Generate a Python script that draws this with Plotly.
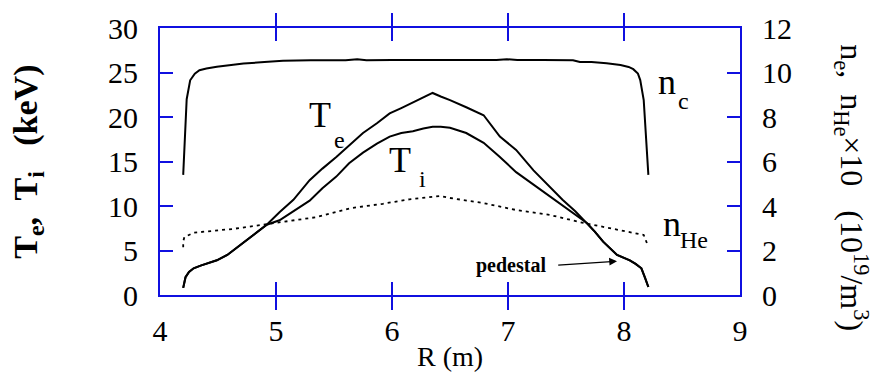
import plotly.graph_objects as go

# Major radius grid for each profile (m)
R_ne = [4.20, 4.22, 4.23, 4.26, 4.30, 4.34, 4.40, 4.49, 4.60, 4.72, 4.90, 5.06, 5.30,
        5.60, 5.70, 5.78, 6.00, 6.50, 6.90, 6.99, 7.08, 7.30, 7.56, 7.62, 7.72, 7.85,
        7.97, 8.04, 8.08, 8.12, 8.14, 8.17, 8.19, 8.21]
n_e = [5.4, 7.6, 8.8, 9.65, 9.95, 10.1, 10.18, 10.26, 10.33, 10.4, 10.47, 10.53, 10.55,
       10.55, 10.6, 10.55, 10.56, 10.56, 10.56, 10.6, 10.56, 10.56, 10.55, 10.47, 10.47, 10.42,
       10.34, 10.25, 10.15, 9.95, 9.66, 8.76, 7.2, 5.4]

R_T = [4.20, 4.22, 4.25, 4.29, 4.35, 4.42, 4.49, 4.58, 4.66, 4.78, 4.92, 5.03, 5.15,
       5.29, 5.40, 5.52, 5.63, 5.75, 5.87, 5.98, 6.08, 6.18, 6.27, 6.35, 6.42, 6.50,
       6.64, 6.79, 6.93, 7.07, 7.22, 7.35, 7.47, 7.58, 7.68, 7.75, 7.82, 7.94, 8.05,
       8.10, 8.15, 8.18, 8.21]
T_e = [0.8, 2.0, 2.6, 3.0, 3.3, 3.6, 3.9, 4.5, 5.3, 6.4, 7.9, 9.3, 10.7,
       12.9, 14.2, 15.5, 16.8, 18.2, 19.3, 20.4, 21.0, 21.6, 22.2, 22.7, 22.3, 21.9,
       21.1, 20.2, 17.8, 16.3, 14.0, 12.3, 10.7, 9.4, 8.1, 7.1, 6.0, 4.5, 3.9,
       3.5, 3.0, 2.0, 0.9]
T_i = [0.8, 2.0, 2.6, 3.0, 3.3, 3.6, 3.9, 4.5, 5.3, 6.4, 7.9, 8.4, 9.4,
       10.6, 12.0, 13.3, 14.8, 16.0, 17.0, 17.8, 18.2, 18.4, 18.7, 18.9, 18.9, 18.8,
       18.2, 17.1, 15.5, 13.8, 12.4, 11.2, 10.1, 9.1, 8.1, 7.1, 6.0, 4.5, 3.9,
       3.5, 3.0, 2.0, 0.9]

R_he = [4.20, 4.20, 4.21, 4.29, 4.63, 5.00, 5.35, 5.64, 5.92, 6.15, 6.41, 6.50, 6.79,
        7.07, 7.36, 7.65, 7.94, 8.17, 8.20]
n_He = [2.15, 2.4, 2.6, 2.8, 2.97, 3.24, 3.5, 3.9, 4.1, 4.3, 4.45, 4.36, 4.13,
        3.82, 3.6, 3.24, 2.92, 2.7, 2.3]

x_ticks = [4, 5, 6, 7, 8, 9]
y_ticks = [0, 5, 10, 15, 20, 25, 30]
y2_ticks = [0, 2, 4, 6, 8, 10, 12]

FRAME = "#1010e0"
SERIF = "Liberation Serif"

fig = go.Figure()
fig.add_trace(go.Scatter(x=R_ne, y=n_e, yaxis="y2", mode="lines",
                         line=dict(color="black", width=2)))
fig.add_trace(go.Scatter(x=R_T, y=T_e, mode="lines",
                         line=dict(color="black", width=2)))
fig.add_trace(go.Scatter(x=R_T, y=T_i, mode="lines",
                         line=dict(color="black", width=2)))
fig.add_trace(go.Scatter(x=R_he, y=n_He, yaxis="y2", mode="lines",
                         line=dict(color="black", width=1.8, dash="3px,4px")))

axis_common = dict(showgrid=False, zeroline=False, showline=True, linecolor=FRAME,
                   linewidth=2, ticks="inside", ticklen=13, tickwidth=2,
                   tickcolor=FRAME, tickfont=dict(family=SERIF, size=30, color="black"))

fig.update_layout(
    width=873, height=378,
    margin=dict(l=160, r=133, t=28, b=83),
    paper_bgcolor="white", plot_bgcolor="white",
    showlegend=False,
    xaxis=dict(range=[4, 9], tickvals=x_ticks, mirror="allticks",
               ticklabelstandoff=8, **axis_common),
    yaxis=dict(range=[0, 30], tickvals=y_ticks, ticklabelstandoff=14, **axis_common),
    yaxis2=dict(range=[0, 12], tickvals=y2_ticks, overlaying="y", side="right",
                ticklabelstandoff=14, **axis_common),
)

def label(text, x, y, size, ref="y", **kw):
    fig.add_annotation(text=text, x=x, y=y, xref="x", yref=ref, showarrow=False,
                       font=dict(family=SERIF, size=size, color="black"), **kw)

# Curve labels with lowered subscripts
label("T", 5.38, 20.2, 36)
label("e", 5.55, 17.4, 24)
label("T", 6.07, 15.2, 36)
label("i", 6.26, 13.0, 24)
label("n", 8.37, 9.57, 36, ref="y2")
label("c", 8.51, 8.7, 24, ref="y2")
label("n", 8.41, 3.2, 36, ref="y2")
label("He", 8.60, 2.45, 24, ref="y2")

# Pedestal marker
label("<b>pedestal</b>", 7.03, 3.35, 20)
fig.add_annotation(x=7.94, y=3.8, ax=7.42, ay=3.35, xref="x", yref="y", axref="x",
                   ayref="y", showarrow=True, arrowhead=2, arrowsize=1.3,
                   arrowwidth=1.2, arrowcolor="black", text="")

# Axis titles
fig.add_annotation(text="R (m)", x=0.5, y=-0.232, xref="paper", yref="paper",
                   yanchor="middle", showarrow=False,
                   font=dict(family=SERIF, size=28, color="black"))
fig.add_annotation(text="<b>T<sub>e</sub>,  T<sub>i</sub>   (keV)</b>", x=-0.229, y=0.50,
                   xref="paper", yref="paper", xanchor="center", yanchor="middle",
                   showarrow=False, textangle=-90,
                   font=dict(family=SERIF, size=34, color="black"))
fig.add_annotation(text="n<sub>e</sub>,  n<sub>He</sub>×10   (10<sup>19</sup>/m<sup>3</sup>)",
                   x=1.193, y=0.40, xref="paper", yref="paper", xanchor="center",
                   yanchor="middle", showarrow=False, textangle=90,
                   font=dict(family=SERIF, size=32, color="black"))

fig.write_html("out.html")
